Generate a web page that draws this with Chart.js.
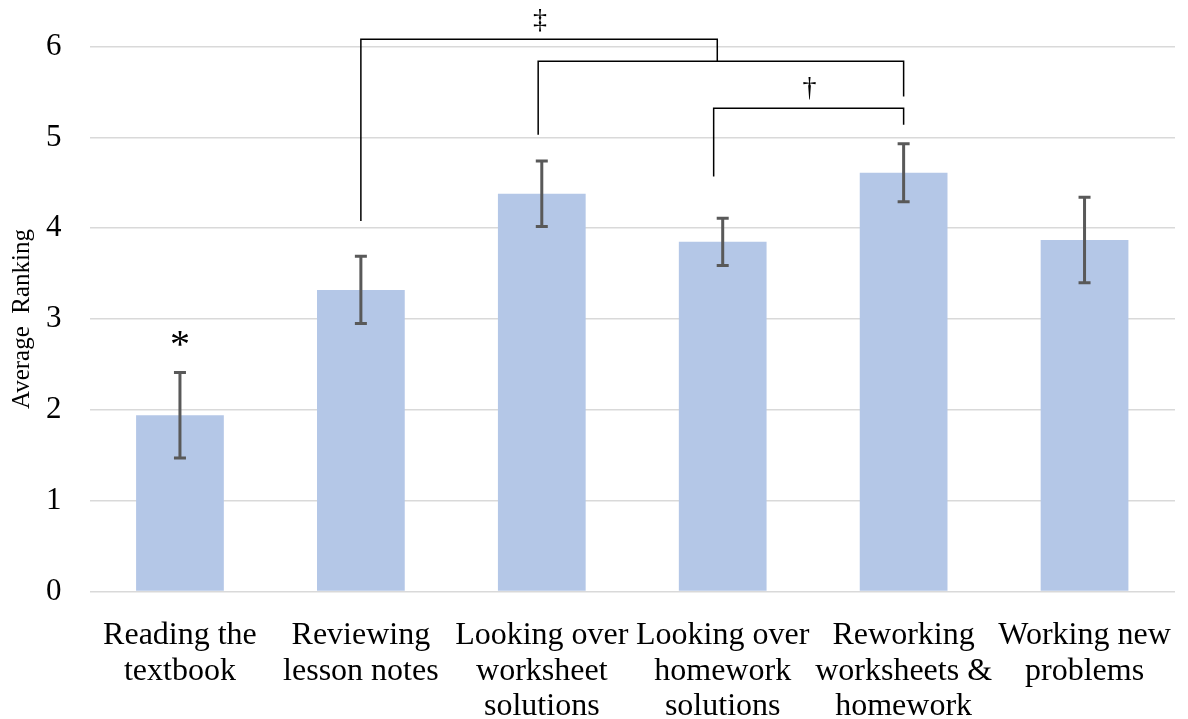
<!DOCTYPE html>
<html>
<head>
<meta charset="utf-8">
<script src="https://cdn.jsdelivr.net/npm/chart.js@4/dist/chart.umd.min.js"></script>
<style>
  html, body { margin: 0; padding: 0; background: #ffffff; }
  #wrap { width: 1188px; height: 719px; position: relative; }
</style>
</head>
<body>
<div id="wrap"><canvas id="chart"></canvas></div>
<script>
// Study strategies and their mean ranking
const categories = [
    ['Reading the', 'textbook'],
    ['Reviewing', 'lesson notes'],
    ['Looking over', 'worksheet', 'solutions'],
    ['Looking over', 'homework', 'solutions'],
    ['Reworking', 'worksheets &', 'homework'],
    ['Working new', 'problems']
];
const averages = [1.94, 3.32, 4.38, 3.85, 4.61, 3.87];
const errors = [0.47, 0.37, 0.36, 0.26, 0.32, 0.47];
const yTicks = [0, 1, 2, 3, 4, 5, 6];

// significance brackets (x in category index, y in ranking units)
const brackets = [
    { x1: 1, x2: 2.97, y: 6.08, leftEnd: 4.08, rightEnd: 5.84 },
    { x1: 1.98, x2: 4, y: 5.84, leftEnd: 5.03, rightEnd: 5.45 },
    { x1: 2.95, x2: 4, y: 5.32, leftEnd: 4.57, rightEnd: 5.14 }
];
const markers = [
    { x: 1.99, y: 6.29, text: '\u2021', size: 28 },
    { x: 3.48, y: 5.54, text: '\u2020', size: 28 },
    { x: 0, y: 2.7, text: '*', size: 40 }
];

const colors = {
    bar: '#b4c7e7',
    error: '#595959',
    grid: '#d9d9d9',
    text: '#000000'
};

const serif = '"Liberation Serif", "Times New Roman", serif';

const errorBars = {
    id: 'errorBars',
    afterDatasetsDraw(chart) {
        const ctx = chart.ctx;
        const yScale = chart.scales.y;
        const meta = chart.getDatasetMeta(0);
        ctx.save();
        ctx.strokeStyle = colors.error;
        ctx.lineWidth = 3;
        meta.data.forEach((bar, i) => {
            const top = yScale.getPixelForValue(averages[i] + errors[i]);
            const bottom = yScale.getPixelForValue(averages[i] - errors[i]);
            ctx.beginPath();
            ctx.moveTo(bar.x, top);
            ctx.lineTo(bar.x, bottom);
            ctx.moveTo(bar.x - 6, top);
            ctx.lineTo(bar.x + 6, top);
            ctx.moveTo(bar.x - 6, bottom);
            ctx.lineTo(bar.x + 6, bottom);
            ctx.stroke();
        });
        ctx.restore();
    }
};

const significance = {
    id: 'significance',
    afterDraw(chart) {
        const ctx = chart.ctx;
        const xs = chart.scales.x;
        const ys = chart.scales.y;
        ctx.save();
        ctx.strokeStyle = '#000000';
        ctx.lineWidth = 1.5;
        brackets.forEach(b => {
            const x1 = xs.getPixelForValue(b.x1);
            const x2 = xs.getPixelForValue(b.x2);
            const y = ys.getPixelForValue(b.y);
            ctx.beginPath();
            ctx.moveTo(x1, ys.getPixelForValue(b.leftEnd));
            ctx.lineTo(x1, y);
            ctx.lineTo(x2, y);
            ctx.lineTo(x2, ys.getPixelForValue(b.rightEnd));
            ctx.stroke();
        });
        ctx.fillStyle = colors.text;
        ctx.textAlign = 'center';
        ctx.textBaseline = 'middle';
        markers.forEach(m => {
            ctx.font = m.size + 'px ' + serif;
            ctx.fillText(m.text, xs.getPixelForValue(m.x), ys.getPixelForValue(m.y));
        });
        ctx.restore();
    }
};

new Chart(document.getElementById('chart'), {
    type: 'bar',
    data: {
        labels: categories,
        datasets: [{
            label: 'Average Ranking',
            data: averages,
            backgroundColor: colors.bar,
            borderWidth: 0,
            categoryPercentage: 1.0,
            barPercentage: 0.485
        }]
    },
    options: {
        responsive: true,
        maintainAspectRatio: false,
        animation: false,
        layout: {
            padding: { top: 37, right: 13, left: 7, bottom: -8 }
        },
        plugins: {
            legend: { display: false },
            tooltip: { enabled: false }
        },
        scales: {
            x: {
                // hidden tick marks still reserve the gap above the labels
                grid: { display: false, drawTicks: true, tickLength: 24 },
                border: { display: false },
                ticks: {
                    color: colors.text,
                    maxRotation: 0,
                    autoSkip: false,
                    padding: 3,
                    font: { family: serif, size: 32, lineHeight: 1.1 }
                }
            },
            y: {
                min: 0,
                max: 6,
                afterBuildTicks(axis) {
                    axis.ticks = yTicks.map(v => ({ value: v }));
                },
                grid: { color: colors.grid, lineWidth: 1.5, drawTicks: false },
                border: { display: false },
                ticks: {
                    color: colors.text,
                    padding: 28,
                    font: { family: serif, size: 31 }
                },
                title: {
                    display: true,
                    text: 'Average  Ranking',
                    color: colors.text,
                    padding: { top: 0, bottom: -19 },
                    font: { family: serif, size: 25 }
                }
            }
        }
    },
    plugins: [errorBars, significance]
});
</script>
</body>
</html>
